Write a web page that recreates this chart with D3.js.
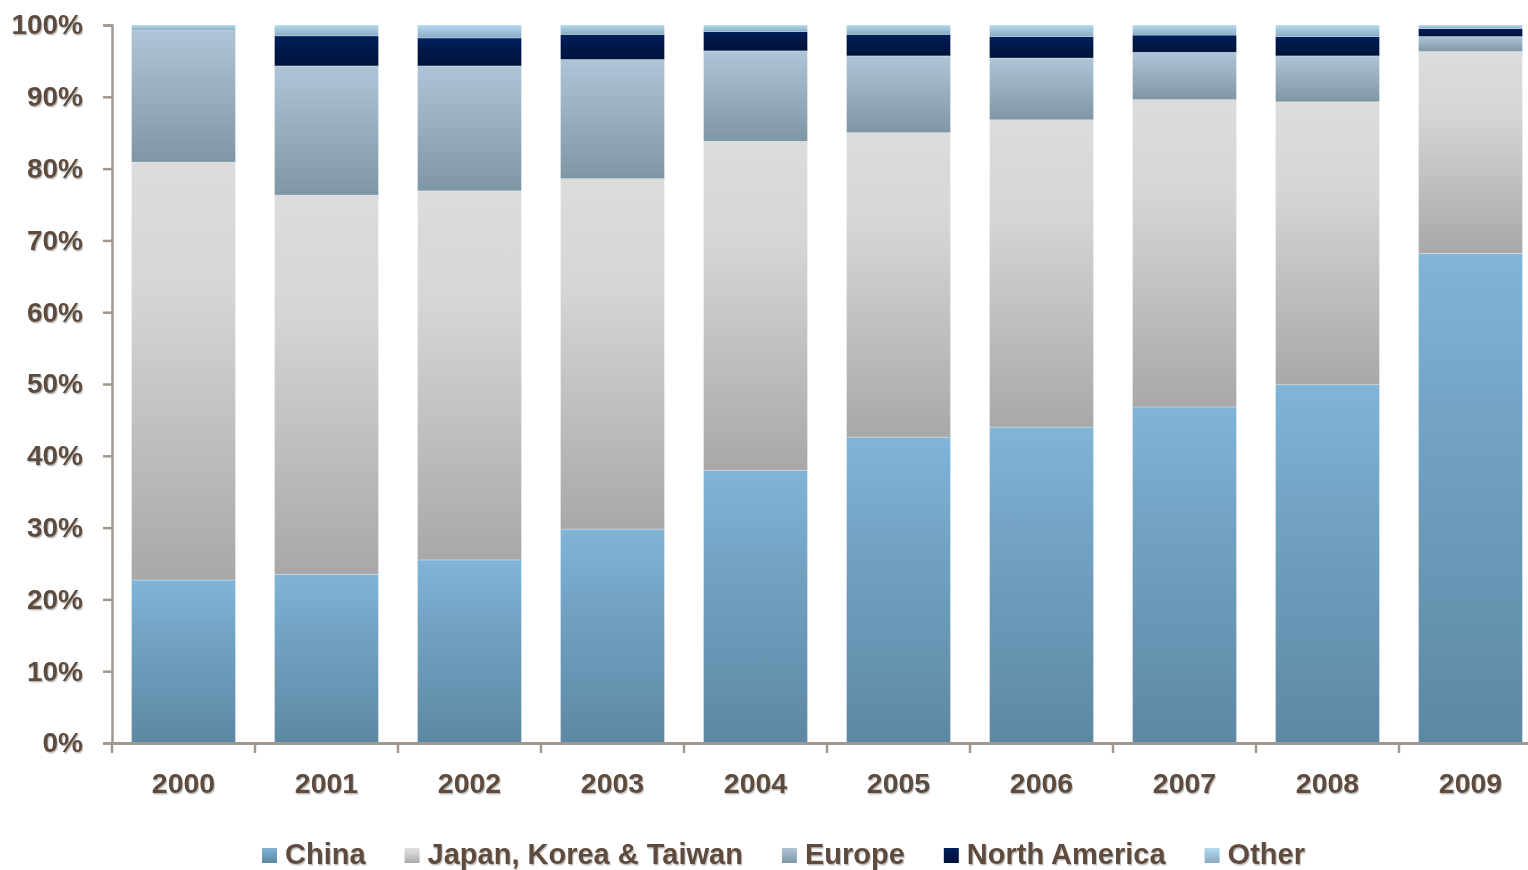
<!DOCTYPE html>
<html>
<head>
<meta charset="utf-8">
<script src="https://cdn.jsdelivr.net/npm/d3@7"></script>
<style>
  html, body { margin: 0; padding: 0; background: #ffffff; }
  svg { display: block; }
  text { font-family: "Liberation Sans", Arial, sans-serif; font-weight: bold; fill: #5f4c3e; }
</style>
</head>
<body>
<svg id="chart" width="1528" height="870"></svg>
<script>
// ---- data ----
const years = ["2000","2001","2002","2003","2004","2005","2006","2007","2008","2009"];
const seriesNames = ["China", "Japan, Korea & Taiwan", "Europe", "North America", "Other"];
const china   = [22.7, 23.5, 25.5, 29.8, 38.0, 42.6, 44.0, 46.8, 49.9, 68.2];
const japan   = [58.2, 52.8, 51.4, 48.8, 45.8, 42.4, 42.8, 42.8, 39.4, 28.1];
const europe  = [18.3, 18.0, 17.4, 16.6, 12.6, 10.7,  8.6,  6.6,  6.4,  2.1];
const northAm = [ 0.0,  4.2,  3.9,  3.5,  2.7,  3.0,  3.0,  2.4,  2.7,  1.1];
const other   = [ 0.8,  1.5,  1.8,  1.3,  0.9,  1.3,  1.6,  1.4,  1.6,  0.5];
const yTicks  = [0, 10, 20, 30, 40, 50, 60, 70, 80, 90, 100];

const seriesValues = [china, japan, europe, northAm, other];
const keys = ["china", "japan", "europe", "northAm", "other"];
const rows = years.map((y, i) => {
  const r = { year: y };
  keys.forEach((k, j) => r[k] = seriesValues[j][i]);
  return r;
});

// gradient colours [top, mid, bottom]
const grads = {
  china:   ["#80b5d8", "#74a5c6", "#5d88a3"],
  japan:   ["#dcdcdc", "#d6d6d6", "#a8a8a8"],
  europe:  ["#aec5d9", "#a0b7c9", "#7f96a5"],
  northAm: ["#00215f", "#001a4e", "#00123a"],
  other:   ["#b4dbf3", "#a6cbe2", "#8aacc2"]
};

const svg = d3.select("#chart");
const defs = svg.append("defs");
keys.forEach(k => {
  const g = defs.append("linearGradient").attr("id", "g-" + k)
    .attr("x1", 0).attr("y1", 0).attr("x2", 0).attr("y2", 1);
  g.append("stop").attr("offset", "0%").attr("stop-color", grads[k][0]);
  g.append("stop").attr("offset", "30%").attr("stop-color", grads[k][1]);
  g.append("stop").attr("offset", "100%").attr("stop-color", grads[k][2]);
});
const shadow = defs.append("filter").attr("id", "ts").attr("x", "-5%").attr("y", "-10%").attr("width", "115%").attr("height", "130%");
shadow.append("feDropShadow").attr("dx", 1).attr("dy", 1.5).attr("stdDeviation", 0.6).attr("flood-color", "#000").attr("flood-opacity", 0.25);

const x0 = 112, x1 = 1542, yTop = 25, yBot = 743;
const x = d3.scaleBand().domain(years).range([x0, x1]).paddingInner(0.273).paddingOuter(0.1365);
const y = d3.scaleLinear().domain([0, 100]).range([yBot, yTop]);

const stack = d3.stack().keys(keys);
const stacked = stack(rows);

const layers = svg.append("g").selectAll("g").data(stacked).join("g")
  .attr("fill", d => "url(#g-" + d.key + ")");
layers.selectAll("rect").data(d => d.filter(s => s[1] - s[0] > 0)).join("rect")
  .attr("x", d => x(d.data.year))
  .attr("width", x.bandwidth())
  .attr("y", d => y(d[1]))
  .attr("height", d => y(d[0]) - y(d[1]))
  .attr("stroke", "rgba(255,255,255,0.35)")
  .attr("stroke-width", 0.8);

// axes
const axisColor = "#a09890";
const yAxis = d3.axisLeft(y).tickValues(yTicks).tickFormat(d => d + "%").tickSize(9).tickPadding(20);
const gy = svg.append("g").attr("transform", `translate(${x0},0)`).call(yAxis);
gy.select(".domain").attr("stroke", axisColor).attr("stroke-width", 2.5);
gy.selectAll(".tick line").attr("stroke", axisColor).attr("stroke-width", 2.5);
gy.selectAll(".tick text").attr("font-size", 28).attr("filter", "url(#ts)")
  .attr("fill", "#5f4c3e").attr("font-family", "Liberation Sans, Arial, sans-serif").attr("font-weight", "bold");

const xAxis = d3.axisBottom(x).tickSize(0).tickPadding(30);
const gx = svg.append("g").attr("transform", `translate(0,${yBot})`).call(xAxis);
gx.select(".domain").attr("stroke", axisColor).attr("stroke-width", 3);
gx.selectAll(".tick text").attr("font-size", 28.5).attr("filter", "url(#ts)")
  .attr("fill", "#5f4c3e").attr("font-family", "Liberation Sans, Arial, sans-serif").attr("font-weight", "bold");
// boundary tick marks
const step = x.step();
gx.selectAll(".btick").data(d3.range(years.length + 1)).join("line")
  .attr("x1", i => x0 + i * step).attr("x2", i => x0 + i * step)
  .attr("y1", 0).attr("y2", 10)
  .attr("stroke", axisColor).attr("stroke-width", 2.5);

// legend
const legend = svg.append("g");
let lx = 262;
seriesNames.forEach((name, i) => {
  const g = legend.append("g");
  g.append("rect").attr("x", lx).attr("y", 848).attr("width", 15).attr("height", 15)
    .attr("fill", "url(#g-" + keys[i] + ")");
  const t = g.append("text").attr("x", lx + 23).attr("y", 864).attr("font-size", 29)
    .attr("filter", "url(#ts)").text(name);
  const w = t.node().getComputedTextLength();
  lx = lx + 23 + w + 39;
});
</script>
</body>
</html>
